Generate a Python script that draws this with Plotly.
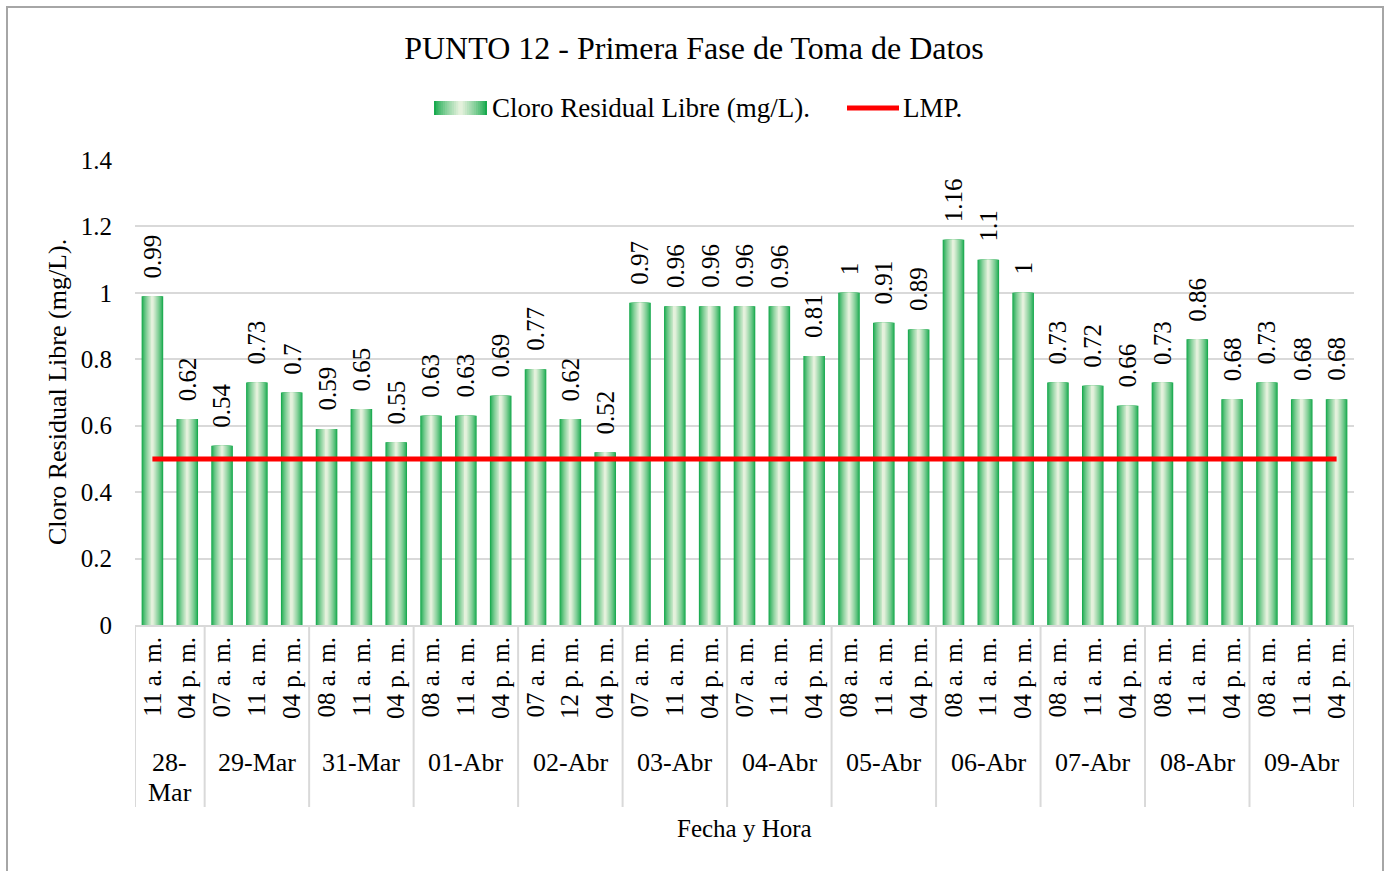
import plotly.graph_objects as go

# Sampling date and time for every measurement
fechas = ["28-Mar", "28-Mar",
          "29-Mar", "29-Mar", "29-Mar",
          "31-Mar", "31-Mar", "31-Mar",
          "01-Abr", "01-Abr", "01-Abr",
          "02-Abr", "02-Abr", "02-Abr",
          "03-Abr", "03-Abr", "03-Abr",
          "04-Abr", "04-Abr", "04-Abr",
          "05-Abr", "05-Abr", "05-Abr",
          "06-Abr", "06-Abr", "06-Abr",
          "07-Abr", "07-Abr", "07-Abr",
          "08-Abr", "08-Abr", "08-Abr",
          "09-Abr", "09-Abr", "09-Abr"]
horas = ["11 a. m.", "04 p. m.",
         "07 a. m.", "11 a. m.", "04 p. m.",
         "08 a. m.", "11 a. m.", "04 p. m.",
         "08 a. m.", "11 a. m.", "04 p. m.",
         "07 a. m.", "12 p. m.", "04 p. m.",
         "07 a. m.", "11 a. m.", "04 p. m.",
         "07 a. m.", "11 a. m.", "04 p. m.",
         "08 a. m.", "11 a. m.", "04 p. m.",
         "08 a. m.", "11 a. m.", "04 p. m.",
         "08 a. m.", "11 a. m.", "04 p. m.",
         "08 a. m.", "11 a. m.", "04 p. m.",
         "08 a. m.", "11 a. m.", "04 p. m."]
cloro = [0.99, 0.62,
         0.54, 0.73, 0.70,
         0.59, 0.65, 0.55,
         0.63, 0.63, 0.69,
         0.77, 0.62, 0.52,
         0.97, 0.96, 0.96,
         0.96, 0.96, 0.81,
         1.00, 0.91, 0.89,
         1.16, 1.10, 1.00,
         0.73, 0.72, 0.66,
         0.73, 0.86, 0.68,
         0.73, 0.68, 0.68]
lmp = [0.5] * len(cloro)
y_ticks = [0, 0.2, 0.4, 0.6, 0.8, 1.0, 1.2, 1.4]
y_ticktext = ["0", "0.2", "0.4", "0.6", "0.8", "1", "1.2", "1.4"]

FONT = "Liberation Serif, Times New Roman, serif"
W, H = 1388, 871
L, R, T, B = 135, 34, 160, 246
PW, PH = W - L - R, H - T - B


def px_x(p):
    return (p - L) / PW


def px_y(p):
    return (H - B - p) / PH


xpos = list(range(len(cloro)))

# consecutive runs of the same date -> (label, first index, last index)
grupos = []
for i, f in enumerate(fechas):
    if grupos and grupos[-1][0] == f:
        grupos[-1][2] = i
    else:
        grupos.append([f, i, i])

fig = go.Figure()

# Horizontal gradient fill: stacked layers, narrower and lighter toward the centre
edge = (24, 170, 78)
centre = (228, 241, 220)
n_layers = 12
full_w = 0.62


def grad_colour(i):
    t = (i / (n_layers - 1)) ** 0.8
    return "rgb(%d,%d,%d)" % tuple(round(edge[k] + (centre[k] - edge[k]) * t) for k in range(3))


for i in range(n_layers):
    w = full_w * (1 - i / n_layers)
    first = i == 0
    fig.add_trace(go.Bar(
        x=xpos, y=cloro, width=w,
        marker=dict(color=grad_colour(i), line=dict(width=0)),
        name="Cloro Residual Libre (mg/L).",
        showlegend=False,
        hoverinfo="x+y" if first else "skip",
    ))

fig.add_trace(go.Scatter(
    x=xpos, y=lmp, mode="lines", name="LMP.", showlegend=False,
    line=dict(color="#FF0000", width=5),
))

shapes = [
    # chart frame
    dict(type="rect", xref="paper", yref="paper",
         x0=px_x(7), x1=px_x(1383), y0=px_y(880), y1=px_y(7),
         line=dict(color="#A6A6A6", width=2), fillcolor="rgba(0,0,0,0)", layer="below"),
]
# date group dividers below the axis
bounds = [g[1] - 0.5 for g in grupos] + [grupos[-1][2] + 0.5]
for b in bounds:
    shapes.append(dict(type="line", xref="x", yref="paper",
                       x0=b, x1=b, y0=0, y1=px_y(807),
                       line=dict(color="#D9D9D9", width=2)))

# legend: gradient swatch + red line
lx0, lx1, ly0, ly1 = 434, 487, 101, 115
for i in range(n_layers):
    half = (lx1 - lx0) / 2 * (1 - i / n_layers)
    cx = (lx0 + lx1) / 2
    shapes.append(dict(type="rect", xref="paper", yref="paper",
                       x0=px_x(cx - half), x1=px_x(cx + half),
                       y0=px_y(ly1), y1=px_y(ly0),
                       fillcolor=grad_colour(i), line=dict(width=0)))
shapes.append(dict(type="line", xref="paper", yref="paper",
                   x0=px_x(847), x1=px_x(899), y0=px_y(108), y1=px_y(108),
                   line=dict(color="#FF0000", width=5)))

annotations = [
    dict(text="Cloro Residual Libre (mg/L).", textangle=-90,
         xref="paper", yref="paper", x=px_x(57), y=px_y(392),
         xanchor="center", yanchor="middle", showarrow=False,
         font=dict(family=FONT, size=26, color="black")),
    dict(text="Fecha y Hora",
         xref="paper", yref="paper", x=px_x(744), y=px_y(828),
         xanchor="center", yanchor="middle", showarrow=False,
         font=dict(family=FONT, size=25, color="black")),
    dict(text="Cloro Residual Libre (mg/L).",
         xref="paper", yref="paper", x=px_x(490), y=px_y(108),
         xanchor="left", yanchor="middle", showarrow=False,
         font=dict(family=FONT, size=27, color="black")),
    dict(text="LMP.",
         xref="paper", yref="paper", x=px_x(901), y=px_y(108),
         xanchor="left", yanchor="middle", showarrow=False,
         font=dict(family=FONT, size=27, color="black")),
]
# value labels above each bar
for xi, v in zip(xpos, cloro):
    annotations.append(dict(
        text=f"{v:g}", textangle=-90, xref="x", yref="y", x=xi, y=v,
        xanchor="center", yanchor="bottom", yshift=16, showarrow=False,
        font=dict(family=FONT, size=25, color="black")))
# date labels under the time labels (narrow groups wrap after the hyphen)
for f, a, b in grupos:
    if b - a + 1 < 3:
        head, tail = f.split("-")
        lines = [head + "-", tail]
    else:
        lines = [f]
    for k, line in enumerate(lines):
        annotations.append(dict(
            text=line, xref="x", yref="paper", x=(a + b) / 2, y=px_y(762 + 30 * k),
            xanchor="center", yanchor="middle",
            showarrow=False, font=dict(family=FONT, size=26, color="black")))

fig.update_layout(
    width=W, height=H,
    margin=dict(l=L, r=R, t=T, b=B),
    paper_bgcolor="white", plot_bgcolor="white",
    barmode="overlay",
    showlegend=False,
    font=dict(family=FONT, size=25, color="black"),
    title=dict(text="PUNTO 12 - Primera Fase de Toma de Datos",
               x=0.5, xanchor="center", y=1 - 48 / H, yanchor="middle",
               font=dict(family=FONT, size=32, color="black")),
    xaxis=dict(
        range=[-0.5, len(cloro) - 0.5],
        tickvals=xpos, ticktext=horas, tickangle=-90,
        tickfont=dict(family=FONT, size=25, color="black"),
        showline=True, linecolor="#D9D9D9", linewidth=2,
        ticks="", showgrid=False, zeroline=False,
    ),
    yaxis=dict(
        range=[0, 1.4], tickvals=y_ticks, ticktext=y_ticktext,
        tickfont=dict(family=FONT, size=25, color="black"),
        showgrid=True, gridcolor="#D9D9D9", gridwidth=2,
        zeroline=False, showline=False, ticks="",
        ticklabelstandoff=22,
    ),
    shapes=shapes,
    annotations=annotations,
)

fig.write_html("out.html")
